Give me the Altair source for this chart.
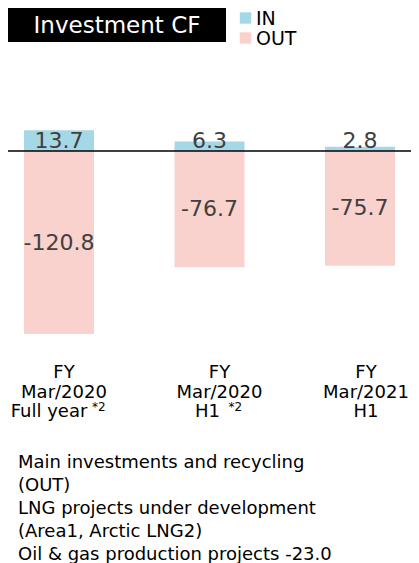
import altair as alt
import pandas as pd

# ---- data ----
categories = ["FY Mar/2020 Full year", "FY Mar/2020 H1", "FY Mar/2021 H1"]
in_values = [13.7, 6.3, 2.8]
out_values = [-120.8, -76.7, -75.7]
label_top = ["FY\nMar/2020", "FY\nMar/2020", "FY\nMar/2021"]
label_bottom = ["Full year", "H1", "H1"]
label_notes = ["*2", "*2", ""]
title_text = "Investment CF"
legend_labels = ["IN", "OUT"]
note_lines = [
    "Main investments and recycling",
    "(OUT)",
    "LNG projects under development",
    "(Area1, Arctic LNG2)",
    "Oil & gas production projects -23.0",
]

# ---- styling ----
FONT = "DejaVu Sans"
IN_COLOR = "#a5d8e7"
OUT_COLOR = "#f9d1cd"
LABEL_COLOR = "#404040"
W, H = 403, 555
PX_PER_UNIT = 1.515
ZERO_Y = 143
y_top = ZERO_Y / PX_PER_UNIT
y_bottom = y_top - H / PX_PER_UNIT

rows = []
for c, v in zip(categories, in_values):
    rows.append({"cat": c, "flow": "IN", "value": v})
for c, v in zip(categories, out_values):
    rows.append({"cat": c, "flow": "OUT", "value": v})
bars_df = pd.DataFrame(rows)

labels_df = pd.DataFrame({
    "cat": categories,
    "top": label_top,
    "bottom": label_bottom,
    "note": label_notes,
})
one = pd.DataFrame({"k": [0]})

xenc = alt.X(
    "cat:N",
    scale=alt.Scale(domain=categories, range=[-24.25, 427.25],
                    paddingInner=0.5349, paddingOuter=0.2674),
    axis=None,
)
yscale = alt.Scale(domain=[y_bottom, y_top], nice=False, zero=False)

bars = alt.Chart(bars_df).mark_bar().encode(
    x=xenc,
    y=alt.Y("value:Q", scale=yscale, axis=None, stack=None),
    color=alt.Color("flow:N", scale=alt.Scale(domain=legend_labels,
                                              range=[IN_COLOR, OUT_COLOR]),
                    legend=None),
)

zero_rule = alt.Chart(one).transform_calculate(zero="0").mark_rule(
    color="black", strokeWidth=1.3
).encode(
    y=alt.Y("zero:Q", scale=yscale, axis=None),
    x=alt.value(0),
    x2=alt.value(W),
)

in_labels = alt.Chart(bars_df).transform_filter("datum.flow == 'IN'").transform_calculate(
    zero="0", label="toString(datum.value)"
).mark_text(
    font=FONT, fontSize=22, color=LABEL_COLOR, baseline="alphabetic", dy=-3
).encode(
    x=xenc,
    y=alt.Y("zero:Q", scale=yscale, axis=None),
    text="label:N",
)

out_labels = alt.Chart(bars_df).transform_filter("datum.flow == 'OUT'").transform_calculate(
    mid="datum.value / 2", label="toString(datum.value)"
).mark_text(
    font=FONT, fontSize=22, color=LABEL_COLOR, baseline="middle"
).encode(
    x=xenc,
    y=alt.Y("mid:Q", scale=yscale, axis=None),
    text="label:N",
)

# category labels (per-category fine offsets)
top_dx = [5, 10, 6]
bottom_dx = [-10, -2, 6]
note_dx = [33, 19, 0]
cat_layers = []
for i, c in enumerate(categories):
    base = alt.Chart(labels_df).transform_filter(f"datum.cat == '{c}'")
    cat_layers.append(base.mark_text(
        font=FONT, fontSize=18, color="black", baseline="alphabetic",
        lineBreak="\n", lineHeight=20, dx=top_dx[i]
    ).encode(x=xenc, y=alt.value(370), text="top:N"))
    cat_layers.append(base.mark_text(
        font=FONT, fontSize=18, color="black", baseline="alphabetic", dx=bottom_dx[i]
    ).encode(x=xenc, y=alt.value(409), text="bottom:N"))
    if label_notes[i]:
        cat_layers.append(base.mark_text(
            font=FONT, fontSize=12, color="black", baseline="alphabetic",
            align="left", dx=note_dx[i]
        ).encode(x=xenc, y=alt.value(403), text="note:N"))

# title box
title_box = alt.Chart(one).mark_rect(color="black").encode(
    x=alt.value(0), x2=alt.value(218), y=alt.value(0), y2=alt.value(34)
)
title = alt.Chart(one).mark_text(
    font=FONT, fontSize=23, color="white", baseline="alphabetic", align="center",
    text=title_text
).encode(x=alt.value(109), y=alt.value(25))

# legend
leg_in_sq = alt.Chart(one).mark_square(size=130, color=IN_COLOR, opacity=1).encode(
    x=alt.value(237.5), y=alt.value(10)
)
leg_in_tx = alt.Chart(one).mark_text(
    font=FONT, fontSize=19, color="black", align="left", baseline="alphabetic",
    text=legend_labels[0]
).encode(x=alt.value(248), y=alt.value(17))
leg_out_sq = alt.Chart(one).mark_square(size=130, color=OUT_COLOR, opacity=1).encode(
    x=alt.value(237.5), y=alt.value(30)
)
leg_out_tx = alt.Chart(one).mark_text(
    font=FONT, fontSize=19, color="black", align="left", baseline="alphabetic",
    text=legend_labels[1]
).encode(x=alt.value(248), y=alt.value(37))

notes = alt.Chart(one).mark_text(
    font=FONT, fontSize=18, color="black", align="left", baseline="alphabetic",
    lineHeight=23, text=note_lines
).encode(x=alt.value(10), y=alt.value(460))

chart = alt.layer(
    bars, zero_rule, in_labels, out_labels, *cat_layers,
    title_box, title, leg_in_sq, leg_in_tx, leg_out_sq, leg_out_tx, notes
).properties(
    width=W, height=H, autosize=alt.AutoSizeParams(type="none"), padding=0
).configure_view(stroke=None)

chart.save("out.html", embed_options={"renderer": "svg", "actions": False})
